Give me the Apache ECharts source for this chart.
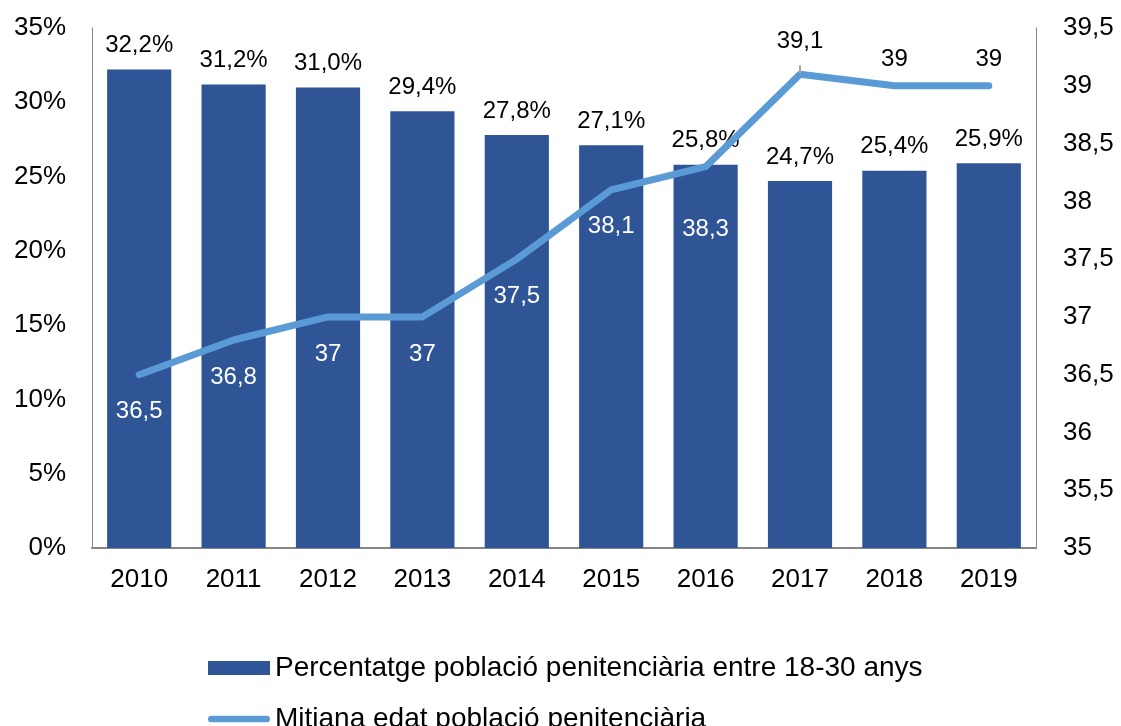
<!DOCTYPE html>
<html>
<head>
<meta charset="utf-8">
<script src="https://cdn.jsdelivr.net/npm/echarts@6/dist/echarts.min.js"></script>
<style>html,body{margin:0;padding:0;background:#fff}#c{width:1121px;height:726px}</style>
</head>
<body>
<div id="c"></div>
<script>
const years = ['2010','2011','2012','2013','2014','2015','2016','2017','2018','2019'];
const youngShare = [32.2, 31.2, 31.0, 29.4, 27.8, 27.1, 25.8, 24.7, 25.4, 25.9];
const meanAge = [36.5, 36.8, 37, 37, 37.5, 38.1, 38.3, 39.1, 39, 39];
const leftTicks = [0, 35, 5];
const rightTicks = [35, 39.5, 0.5];
const barName = 'Percentatge població penitenciària entre 18-30 anys';
const lineName = 'Mitjana edat població penitenciària';

const FONT = '"Liberation Sans", Arial, sans-serif';
const comma = v => String(v).replace('.', ',');

const lineData = meanAge.map((v, i) => {
  const above = i >= 7;
  let dist = above ? 13 : 24;
  if (i === 7) dist = 20;
  if (i === 6) dist = 50;
  const item = {
    value: v,
    label: {
      position: above ? 'top' : 'bottom',
      distance: dist,
      color: above ? '#000' : '#fff'
    }
  };
  if (i === 7) {
    item.labelLine = {show: true, lineStyle: {color: '#A6A6A6', width: 2}};
  }
  return item;
});

const chart = echarts.init(document.getElementById('c'), null, {renderer: 'canvas'});
chart.setOption({
  animation: false,
  textStyle: {fontFamily: FONT},
  grid: {left: 92, right: 85, top: 28, bottom: 178, containLabel: false},
  legend: {
    orient: 'vertical',
    left: 203,
    top: 649,
    height: 200,
    itemGap: 23,
    itemWidth: 62,
    itemHeight: 14,
    textStyle: {fontSize: 28, color: '#000', fontFamily: FONT},
    data: [
      {name: barName, icon: 'rect'},
      {name: lineName, icon: 'path://M3.5,0 L61.5,0 A3.5,3.5 0 0 1 61.5,7 L3.5,7 A3.5,3.5 0 0 1 3.5,0 Z'}
    ]
  },
  xAxis: {
    type: 'category',
    data: years,
    axisLine: {lineStyle: {color: '#868686', width: 2}},
    axisTick: {show: false},
    axisLabel: {fontSize: 26, color: '#000', margin: 19, fontFamily: FONT}
  },
  yAxis: [
    {
      type: 'value', min: leftTicks[0], max: leftTicks[1], interval: leftTicks[2],
      axisLine: {show: true, lineStyle: {color: '#868686', width: 1}},
      axisTick: {show: false},
      splitLine: {show: false},
      axisLabel: {fontSize: 26, color: '#000', margin: 26, formatter: v => v + '%', fontFamily: FONT}
    },
    {
      type: 'value', min: rightTicks[0], max: rightTicks[1], interval: rightTicks[2],
      position: 'right',
      axisLine: {show: true, lineStyle: {color: '#868686', width: 1}},
      axisTick: {show: false},
      splitLine: {show: false},
      axisLabel: {fontSize: 26, color: '#000', margin: 27, formatter: v => comma(v), fontFamily: FONT}
    }
  ],
  series: [
    {
      name: barName,
      type: 'bar',
      data: youngShare,
      barWidth: '68%',
      itemStyle: {color: '#2F5597'},
      label: {
        show: true, position: 'top', distance: 12,
        fontSize: 24, color: '#000', fontFamily: FONT,
        formatter: p => p.value.toFixed(1).replace('.', ',') + '%'
      }
    },
    {
      name: lineName,
      type: 'line',
      yAxisIndex: 1,
      data: lineData,
      symbol: 'circle',
      symbolSize: 2,
      showSymbol: true,
      lineStyle: {color: '#5B9BD5', width: 7, cap: 'round', join: 'round'},
      itemStyle: {color: '#5B9BD5'},
      label: {
        show: true, fontSize: 24, fontFamily: FONT,
        formatter: p => comma(p.value)
      },
      z: 5
    }
  ]
});
</script>
</body>
</html>
